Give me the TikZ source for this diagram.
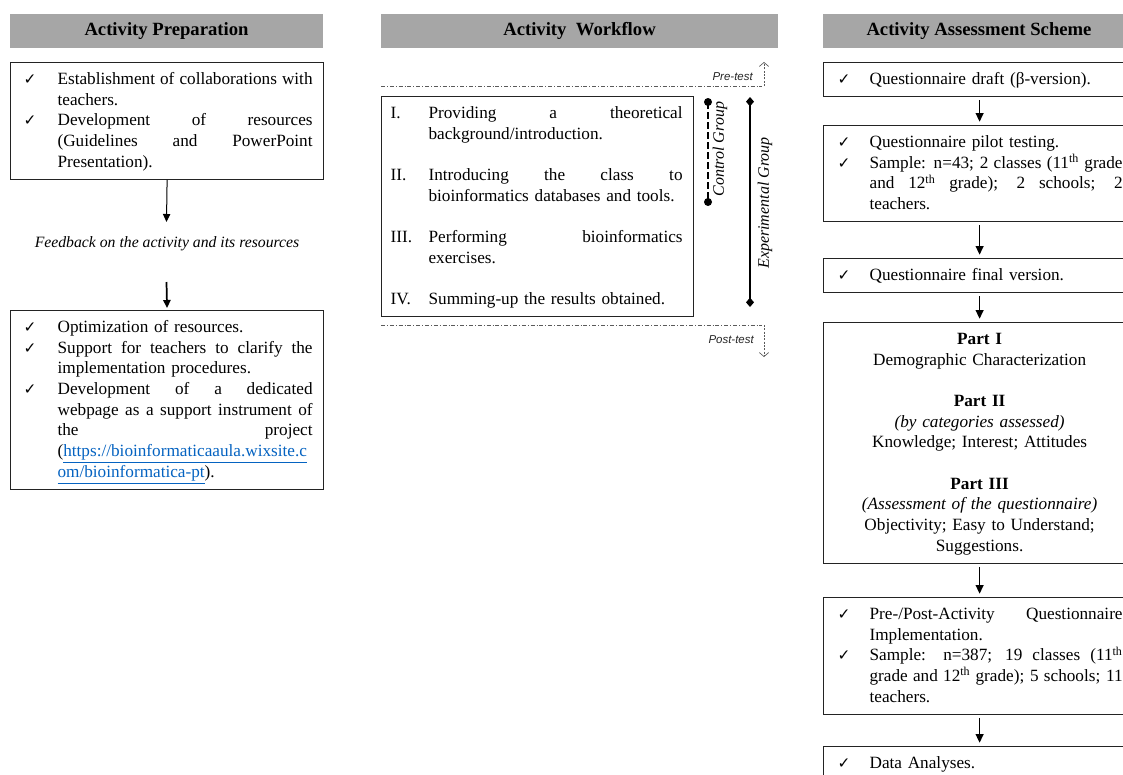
\documentclass[tikz,border=0pt]{standalone}
\usepackage{fontspec}
\setmainfont{Liberation Serif}
\newfontfamily\arialf{Liberation Sans}
\newfontfamily\symf{DejaVu Sans}
\usetikzlibrary{arrows.meta}
\definecolor{hdrgray}{RGB}{166,166,166}
\definecolor{linkblue}{RGB}{5,99,193}
\definecolor{dashgray}{RGB}{90,90,90}
\definecolor{boxline}{RGB}{35,35,35}
\newlength\toff \newlength\ckin \newlength\tw
\newcommand\chk{{\symf\fontsize{11.5}{11.5}\selectfont ✓}}
\newcommand\CK[1]{\makebox[\toff][l]{\hspace*{\ckin}\chk}#1}
\newcommand\IN[1]{\hspace*{\toff}#1}
\newcommand\RN[2]{\makebox[\toff][l]{\hspace*{\ckin}#1}#2}
\newcommand\J[1]{\makebox[\tw][s]{\spaceskip=0pt\xspaceskip=0pt\relax #1}}
\newcommand\TS{\rule{0pt}{16.5pt}}
\newcommand\BS{\rule[-9pt]{0pt}{9pt}}
\newcommand\lnk[1]{{\color{linkblue}\underline{#1}}}
\begin{document}
\begin{tikzpicture}[x=0.75pt,y=-0.75pt,
  hdr/.style={fill=hdrgray, minimum width=#1, minimum height=25.5pt, inner sep=0pt,
    font=\fontsize{14}{16}\selectfont\bfseries},
  box/.style={draw=boxline, line width=0.9pt, inner xsep=0pt, inner ysep=0pt,
    anchor=north west, align=left, font=\fontsize{12.9}{15.5}\selectfont},
  colL/.style={box, text width=234.75pt,
    execute at begin node={\setlength\toff{35.25pt}\setlength\ckin{9.75pt}\setlength\tw{191.25pt}}},
  colM/.style={box, text width=234pt,
    execute at begin node={\setlength\toff{35.25pt}\setlength\ckin{6.75pt}\setlength\tw{190.5pt}}},
  colR/.style={box, text width=234pt,
    execute at begin node={\setlength\toff{34.5pt}\setlength\ckin{10.5pt}\setlength\tw{189.75pt}}},
  arrthin/.style={draw=black, line width=0.75pt, -{Triangle[length=6pt,width=5.5pt]}},
  arrthick/.style={draw=black, line width=1.3pt, -{Triangle[length=6pt,width=5.5pt]}},
  rarr/.style={draw=black, line width=1pt, -{Triangle[length=6.5pt,width=6pt]},
    shorten <=2.25pt, shorten >=2.5pt},
  dashdotline/.style={draw=dashgray, line width=0.6pt,
    dash pattern=on 3pt off 1.5pt on 0.6pt off 1.5pt},
  testarrow/.style={draw=dashgray, line width=0.5pt, dash pattern=on 1.5pt off 1pt,
    -{Straight Barb[length=3pt,width=7pt]}},
  testlbl/.style={font=\arialf\itshape\fontsize{8.6}{10}\selectfont, inner sep=0pt, text=black!85},
  grouplbl/.style={font=\fontsize{12}{14}\selectfont\itshape, inner sep=0pt, rotate=90},
]
\useasboundingbox (0,0) rectangle (1123,774);
\fill[white] (0,0) rectangle (1123,774);

% ---------- headers
\node[hdr=234.75pt] (hP) at (166.5,31) {Activity Preparation};
\node[hdr=297.75pt] (hW) at (579.5,31) {Activity\ \ Workflow};
\node[hdr=234pt] (hA) at (979,31) {Activity Assessment Scheme};

% ---------- left column
\node[colL] (p1) at (10,62) {\TS\CK{\J{Establishment of collaborations with}}\\
  \IN{teachers.}\\
  \CK{\J{Development of resources}}\\
  \IN{\J{(Guidelines and PowerPoint}}\\
  \IN{Presentation).}\BS};
\coordinate (a1e) at (166.5,222);
\node[font=\fontsize{11.8}{14}\selectfont\itshape, anchor=base, inner sep=0pt] (fb) at (167,247)
  {Feedback on the activity and its resources};
\coordinate (a2s) at (166.5,282);
\node[colL] (p2) at (10,310) {\TS\CK{Optimization of resources.}\\
  \CK{\J{Support for teachers to clarify the}}\\
  \IN{implementation procedures.}\\
  \CK{\J{Development of a dedicated}}\\
  \IN{\J{webpage as a support instrument of}}\\
  \IN{\J{the project}}\\
  \IN{(\lnk{https://bioinformaticaaula.wixsite.c}}\\
  \IN{\lnk{om/bioinformatica-pt}).}\BS};
\draw[arrthin] (p1.south) -- (a1e);
\draw[arrthick, shorten >=1.5pt] (a2s) -- (p2.north);

% ---------- middle column
\coordinate (preL) at (381,86);
\coordinate (preR) at (762,86);
\draw[dashdotline] (preL) -- (preR);
\coordinate (preA0) at (764,86);
\coordinate (preA1) at (764,62);
\draw[testarrow] (preA0) -- (preA1);
\node[testlbl, anchor=base east] (pre) at (753,80) {Pre-test};

\node[colM] (wf) at (381,96) {\TS\RN{I.}{\J{Providing a theoretical}}\\
  \IN{background/introduction.}\\[15.5pt]
  \RN{II.}{\J{Introducing the class to}}\\
  \IN{bioinformatics databases and tools.}\\[15.5pt]
  \RN{III.}{\J{Performing bioinformatics}}\\
  \IN{exercises.}\\[15.5pt]
  \RN{IV.}{Summing-up the results obtained.}\BS};

\coordinate (postL) at (381,325);
\coordinate (postR) at (762,325);
\draw[dashdotline] (postL) -- (postR);
\coordinate (postA0) at (764,325);
\coordinate (postA1) at (764,357);
\draw[testarrow] (postA0) -- (postA1);
\node[testlbl, anchor=base east] (post) at (754,343) {Post-test};

% control group
\coordinate (cT) at (708,102);
\coordinate (cB) at (708,202);
\draw[line width=2pt, dash pattern=on 5pt off 2.5pt] (cT) -- (cB);
\fill (cT) circle[radius=3pt];
\fill (cB) circle[radius=3pt];
\node[grouplbl] (cgl) at (720,149) {Control Group};
% experimental group
\coordinate (eT) at (750,97);
\coordinate (eB) at (750,307);
\draw[line width=2pt, {Diamond[length=7pt,width=6pt]}-{Diamond[length=7pt,width=6pt]}] (eT) -- (eB);
\node[grouplbl] (egl) at (765,203) {Experimental Group};

% ---------- right column
\node[colR] (q1) at (823,62) {\TS\CK{Questionnaire draft (β-version).}\BS};
\node[colR] (q2) at (823,125) {\TS\CK{Questionnaire pilot testing.}\\
  \CK{\J{Sample: n=43; 2 classes (11\textsuperscript{th} grade}}\\
  \IN{\J{and 12\textsuperscript{th} grade); 2 schools; 2}}\\
  \IN{teachers.}\BS};
\node[colR] (q3) at (823,258) {\TS\CK{Questionnaire final version.}\BS};
\node[colR, align=center] (q4) at (823,322) {\TS\textbf{Part I}\\
  Demographic Characterization\\[15.5pt]
  \textbf{Part II}\\
  \textit{(by categories assessed)}\\
  Knowledge; Interest; Attitudes\\[15.5pt]
  \textbf{Part III}\\
  \textit{(Assessment of the questionnaire)}\\
  Objectivity; Easy to Understand;\\
  Suggestions.\BS};
\node[colR] (q5) at (823,597) {\TS\CK{\J{Pre-/Post-Activity Questionnaire}}\\
  \IN{Implementation.}\\
  \CK{\J{Sample: n=387; 19 classes (11\textsuperscript{th}}}\\
  \IN{\J{grade and 12\textsuperscript{th} grade); 5 schools; 11}}\\
  \IN{teachers.}\BS};
\node[colR] (q6) at (823,746) {\TS\CK{Data Analyses.}\BS};
\draw[rarr] (q1) -- (q2);
\draw[rarr] (q2) -- (q3);
\draw[rarr] (q3) -- (q4);
\draw[rarr] (q4) -- (q5);
\draw[rarr] (q5) -- (q6);
\end{tikzpicture}
\end{document}
